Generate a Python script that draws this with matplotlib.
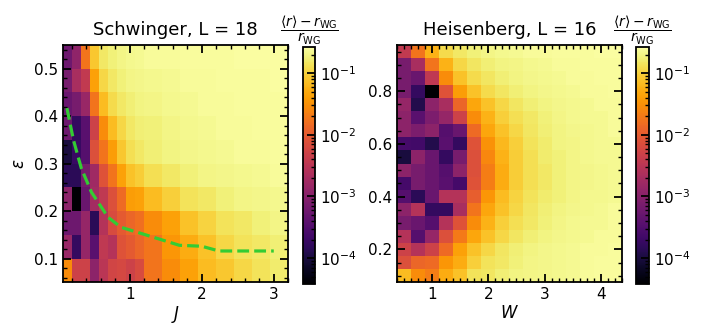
"""Deviation of <r> from Wigner-Gauss value: Schwinger vs Heisenberg heatmaps."""

import numpy as np
import matplotlib
matplotlib.use('Agg')
import matplotlib.pyplot as plt
from matplotlib.colors import LogNorm
from matplotlib.ticker import MultipleLocator, LogLocator, NullFormatter

plt.rcParams.update({
    'font.family': 'DejaVu Sans',
    'font.size': 11,
    'axes.linewidth': 1.3,
    'xtick.direction': 'in',
    'ytick.direction': 'in',
    'xtick.top': True,
    'ytick.right': True,
    'xtick.major.size': 6,
    'ytick.major.size': 6,
    'xtick.minor.size': 3,
    'ytick.minor.size': 3,
    'xtick.major.width': 1.3,
    'ytick.major.width': 1.3,
    'xtick.minor.width': 1.0,
    'ytick.minor.width': 1.0,
})

# ── Schwinger model, L = 18 ──
J_EDGES = [0.075, 0.2, 0.325, 0.45, 0.575, 0.7, 0.825, 0.95, 1.075, 1.2,
           1.45, 1.7, 1.95, 2.2, 2.45, 2.7, 2.95, 3.2]
EPS_S_EDGES = [0.05, 0.1, 0.15, 0.2, 0.25, 0.3, 0.35, 0.4, 0.45, 0.5, 0.55]

# log10 of (<r> - r_WG) / r_WG, rows from eps = 0.075 upward
LOG_DEV_SCHW = [
    [-1.54, -2.30, -2.30, -2.96, -2.50, -2.26, -2.22, -2.30, -2.18, -1.75, -1.54, -1.37, -1.16, -1.07, -0.95, -0.87, -0.79],
    [-2.83, -3.77, -2.87, -3.43, -2.46, -2.57, -2.09, -2.01, -1.88, -1.75, -1.46, -1.29, -1.12, -0.95, -0.87, -0.82, -0.76],
    [-3.24, -3.24, -2.87, -3.84, -2.57, -2.18, -2.01, -1.88, -1.79, -1.54, -1.37, -1.12, -0.98, -0.87, -0.82, -0.74, -0.70],
    [-2.96, -4.42, -3.29, -2.73, -2.46, -2.13, -1.84, -1.41, -1.37, -1.16, -1.01, -0.87, -0.82, -0.74, -0.70, -0.69, -0.67],
    [-3.84, -3.84, -3.15, -2.78, -2.09, -1.75, -1.37, -1.12, -1.03, -0.90, -0.82, -0.74, -0.70, -0.69, -0.67, -0.65, -0.63],
    [-4.00, -3.73, -3.47, -2.13, -1.75, -1.41, -1.07, -0.90, -0.82, -0.76, -0.72, -0.69, -0.67, -0.65, -0.63, -0.63, -0.61],
    [-3.24, -3.77, -3.43, -2.30, -1.54, -1.16, -0.95, -0.82, -0.76, -0.74, -0.70, -0.67, -0.65, -0.63, -0.63, -0.61, -0.61],
    [-3.29, -3.15, -2.83, -1.75, -1.16, -0.92, -0.82, -0.76, -0.72, -0.70, -0.67, -0.65, -0.63, -0.63, -0.61, -0.61, -0.61],
    [-3.15, -2.69, -2.42, -1.37, -0.95, -0.82, -0.74, -0.70, -0.69, -0.67, -0.65, -0.63, -0.63, -0.61, -0.61, -0.61, -0.59],
    [-3.24, -2.92, -1.75, -1.07, -0.82, -0.74, -0.70, -0.67, -0.65, -0.63, -0.63, -0.61, -0.61, -0.61, -0.59, -0.59, -0.59],
]

# threshold curve (green dashed)
BOUND_J = [0.13, 0.22, 0.33, 0.47, 0.70, 0.88, 1.18, 1.69, 2.0, 2.24, 3.0]
BOUND_EPS = [0.417, 0.35, 0.29, 0.24, 0.187, 0.166, 0.152, 0.128, 0.126, 0.116, 0.116]

# ── Heisenberg model, L = 16 ──
W_EDGES = [0.375, 0.625, 0.875, 1.125, 1.375, 1.625, 1.875, 2.125, 2.375,
           2.625, 2.875, 3.125, 3.375, 3.625, 3.875, 4.125, 4.375]
EPS_H_EDGES = [0.075, 0.125, 0.175, 0.225, 0.275, 0.325, 0.375, 0.425, 0.475, 0.525,
               0.575, 0.625, 0.675, 0.725, 0.775, 0.825, 0.875, 0.925, 0.975]

# log10 of (<r> - r_WG) / r_WG, rows from eps = 0.1 upward
LOG_DEV_HEIS = [
    [-1.16, -1.54, -1.67, -1.29, -1.12, -0.87, -0.84, -0.76, -0.72, -0.70, -0.69, -0.67, -0.65, -0.63, -0.61, -0.61],
    [-2.13, -1.88, -1.84, -1.46, -1.29, -1.01, -0.87, -0.82, -0.74, -0.70, -0.69, -0.67, -0.65, -0.63, -0.61, -0.61],
    [-2.30, -2.57, -2.30, -1.84, -1.37, -1.12, -0.95, -0.84, -0.76, -0.72, -0.69, -0.67, -0.65, -0.63, -0.63, -0.61],
    [-2.57, -3.47, -2.87, -2.13, -1.71, -1.33, -1.12, -0.95, -0.84, -0.76, -0.72, -0.69, -0.67, -0.65, -0.63, -0.63],
    [-3.15, -3.29, -3.47, -2.57, -2.09, -1.54, -1.24, -1.01, -0.90, -0.82, -0.74, -0.70, -0.67, -0.65, -0.65, -0.63],
    [-2.96, -2.57, -3.77, -3.77, -2.69, -1.75, -1.33, -1.12, -0.95, -0.84, -0.76, -0.72, -0.69, -0.67, -0.65, -0.63],
    [-3.47, -3.84, -3.29, -2.57, -2.57, -1.96, -1.46, -1.16, -0.98, -0.87, -0.79, -0.74, -0.70, -0.67, -0.67, -0.65],
    [-3.61, -3.15, -3.29, -3.43, -3.61, -2.09, -1.67, -1.29, -1.03, -0.90, -0.82, -0.74, -0.70, -0.69, -0.67, -0.65],
    [-2.96, -3.15, -3.29, -3.47, -2.96, -2.13, -1.67, -1.29, -1.03, -0.90, -0.82, -0.74, -0.70, -0.69, -0.67, -0.65],
    [-4.00, -2.96, -3.29, -3.77, -3.15, -2.13, -1.58, -1.24, -1.03, -0.90, -0.79, -0.74, -0.70, -0.67, -0.65, -0.65],
    [-3.61, -3.65, -3.92, -3.43, -3.77, -2.09, -1.50, -1.20, -1.01, -0.87, -0.79, -0.72, -0.70, -0.67, -0.65, -0.65],
    [-2.96, -3.10, -2.96, -3.47, -3.29, -1.84, -1.33, -1.12, -0.95, -0.84, -0.76, -0.72, -0.69, -0.67, -0.65, -0.63],
    [-2.96, -3.43, -3.10, -2.87, -2.30, -1.54, -1.24, -1.01, -0.90, -0.82, -0.74, -0.70, -0.67, -0.65, -0.65, -0.63],
    [-2.87, -3.92, -2.96, -2.69, -1.88, -1.33, -1.12, -0.95, -0.84, -0.76, -0.72, -0.69, -0.67, -0.65, -0.63, -0.63],
    [-3.15, -3.77, -4.42, -2.09, -1.41, -1.12, -0.92, -0.84, -0.76, -0.72, -0.69, -0.67, -0.65, -0.63, -0.63, -0.61],
    [-3.15, -3.29, -2.46, -1.54, -1.12, -0.92, -0.84, -0.76, -0.72, -0.69, -0.67, -0.65, -0.63, -0.63, -0.61, -0.61],
    [-3.15, -2.69, -1.75, -1.24, -0.95, -0.84, -0.76, -0.72, -0.70, -0.67, -0.65, -0.63, -0.63, -0.61, -0.61, -0.61],
    [-2.42, -1.75, -1.24, -0.92, -0.82, -0.74, -0.70, -0.67, -0.65, -0.63, -0.63, -0.61, -0.61, -0.61, -0.59, -0.59],
]

VMIN, VMAX = 10 ** -4.42, 10 ** -0.57
CBAR_TITLE = r'$\dfrac{\langle r\rangle - r_{\rm WG}}{r_{\rm WG}}$'

fig = plt.figure(figsize=(7.06, 3.26), dpi=100)
ax1 = fig.add_axes([0.0892, 0.134, 0.319, 0.728])
cax1 = fig.add_axes([0.4288, 0.1288, 0.0175, 0.728])
ax2 = fig.add_axes([0.5619, 0.134, 0.3191, 0.728])
cax2 = fig.add_axes([0.9008, 0.1288, 0.0189, 0.728])


def draw_panel(ax, cax, xe, ye, logdev, title, xlabel):
    data = 10 ** np.array(logdev)
    mesh = ax.pcolormesh(xe, ye, data, cmap='inferno',
                         norm=LogNorm(vmin=VMIN, vmax=VMAX), rasterized=True)
    ax.set_xlim(xe[0], xe[-1])
    ax.set_ylim(ye[0], ye[-1])
    ax.set_title(title, fontsize=13, pad=7)
    ax.set_xlabel(xlabel, fontsize=12, labelpad=1)
    cb = fig.colorbar(mesh, cax=cax)
    cb.outline.set_linewidth(1.3)
    cax.yaxis.set_major_locator(LogLocator(base=10, numticks=10))
    cax.yaxis.set_minor_locator(LogLocator(base=10, subs=np.arange(2, 10), numticks=10))
    cax.yaxis.set_minor_formatter(NullFormatter())
    cax.tick_params(which='both', direction='in', right=True, left=False, labelsize=11)
    cax.set_title(CBAR_TITLE, fontsize=10, pad=5)
    return mesh


draw_panel(ax1, cax1, J_EDGES, EPS_S_EDGES, LOG_DEV_SCHW, 'Schwinger, L = 18', r'$J$')
ax1.plot(BOUND_J, BOUND_EPS, color='#33cc33', linestyle='--', linewidth=2.3)
ax1.set_ylabel(r'$\varepsilon$', fontsize=12, labelpad=4)
ax1.xaxis.set_major_locator(MultipleLocator(1))
ax1.xaxis.set_minor_locator(MultipleLocator(0.2))
ax1.yaxis.set_major_locator(MultipleLocator(0.1))
ax1.yaxis.set_minor_locator(MultipleLocator(0.02))

draw_panel(ax2, cax2, W_EDGES, EPS_H_EDGES, LOG_DEV_HEIS, 'Heisenberg, L = 16', r'$W$')
ax2.xaxis.set_major_locator(MultipleLocator(1))
ax2.xaxis.set_minor_locator(MultipleLocator(0.125))
ax2.yaxis.set_major_locator(MultipleLocator(0.2))
ax2.yaxis.set_minor_locator(MultipleLocator(0.05))

for ax in (ax1, ax2):
    ax.tick_params(which='both', top=True, right=True, labelsize=11)

fig.savefig('out.png', dpi=100)
print('saved out.png')
